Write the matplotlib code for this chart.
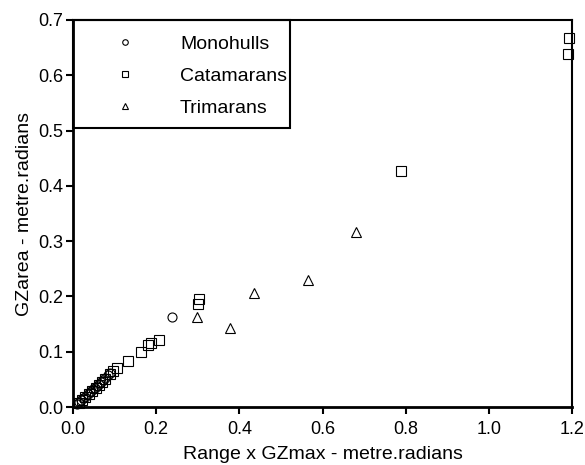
#!/usr/bin/env python3
"""GZarea vs Range x GZmax scatter for monohulls, catamarans and trimarans."""

import matplotlib
matplotlib.use("Agg")
import matplotlib.pyplot as plt
from matplotlib.lines import Line2D
from matplotlib.patches import Rectangle
import numpy as np

# Range x GZmax (metre.radians) / GZarea (metre.radians)
mono_x = [0.010, 0.015, 0.020, 0.025, 0.030, 0.035, 0.040, 0.043, 0.048,
          0.052, 0.058, 0.063, 0.068, 0.072, 0.078, 0.083, 0.088, 0.238]
mono_y = [0.006, 0.009, 0.013, 0.016, 0.019, 0.023, 0.027, 0.029, 0.032,
          0.034, 0.038, 0.042, 0.045, 0.048, 0.053, 0.058, 0.061, 0.162]

cat_x = [0.015, 0.022, 0.030, 0.038, 0.045, 0.055, 0.062, 0.070, 0.078,
         0.090, 0.097, 0.105, 0.133, 0.163, 0.180, 0.187, 0.206, 0.300,
         0.303, 0.788, 1.190, 1.193]
cat_y = [0.008, 0.013, 0.018, 0.024, 0.029, 0.035, 0.040, 0.046, 0.050,
         0.060, 0.066, 0.071, 0.084, 0.099, 0.112, 0.115, 0.121, 0.186,
         0.195, 0.427, 0.638, 0.668]

tri_x = [0.298, 0.377, 0.435, 0.565, 0.680]
tri_y = [0.163, 0.143, 0.207, 0.230, 0.317]

series = [
    ("Monohulls", mono_x, mono_y, "o"),
    ("Catamarans", cat_x, cat_y, "s"),
    ("Trimarans", tri_x, tri_y, "^"),
]

plt.rcParams["font.family"] = ["Liberation Sans", "DejaVu Sans"]

fig = plt.figure(figsize=(5.85, 4.65), dpi=100)
ax = fig.add_axes([0.1248, 0.1247, 0.8530, 0.8323])

handles = []
for label, xs, ys, marker in series:
    ax.plot(xs, ys, linestyle="none", marker=marker, markersize=6.5,
            markerfacecolor="none", markeredgecolor="black",
            markeredgewidth=0.8, clip_on=False, zorder=3)
    handles.append(Line2D([], [], linestyle="none", marker=marker,
                          markersize=4, markerfacecolor="none",
                          markeredgecolor="black", markeredgewidth=0.8,
                          label=label))

ax.set_xlim(0, 1.2)
ax.set_ylim(0, 0.7)
ax.set_xticks(np.arange(0, 1.21, 0.2))
ax.set_yticks(np.arange(0, 0.71, 0.1))
ax.xaxis.set_major_formatter(matplotlib.ticker.FormatStrFormatter("%.1f"))
ax.yaxis.set_major_formatter(matplotlib.ticker.FormatStrFormatter("%.1f"))
ax.tick_params(direction="out", length=5, width=1.5, labelsize=13)
ax.tick_params(axis="x", pad=5)
ax.tick_params(axis="y", pad=2)

for side in ["left", "bottom"]:
    ax.spines[side].set_linewidth(2.0)
for side in ["top", "right"]:
    ax.spines[side].set_linewidth(1.5)

ax.set_xlabel("Range x GZmax - metre.radians", fontsize=14, labelpad=6)
ax.set_ylabel("GZarea - metre.radians", fontsize=14, labelpad=4)

# legend box drawn separately: the original has more room above/below than at the side
ax.add_patch(Rectangle((0, 0.721), 0.435, 0.279, transform=ax.transAxes,
                       fill=False, edgecolor="black", linewidth=1.5,
                       clip_on=False, zorder=4))
ax.legend(handles=handles, loc="upper left", bbox_to_anchor=(0, 1),
          borderaxespad=0, fontsize=14, frameon=False,
          borderpad=0.8, labelspacing=0.73, handlelength=3.75,
          handletextpad=0.95)

fig.savefig("out.png", dpi=100)
plt.close(fig)
